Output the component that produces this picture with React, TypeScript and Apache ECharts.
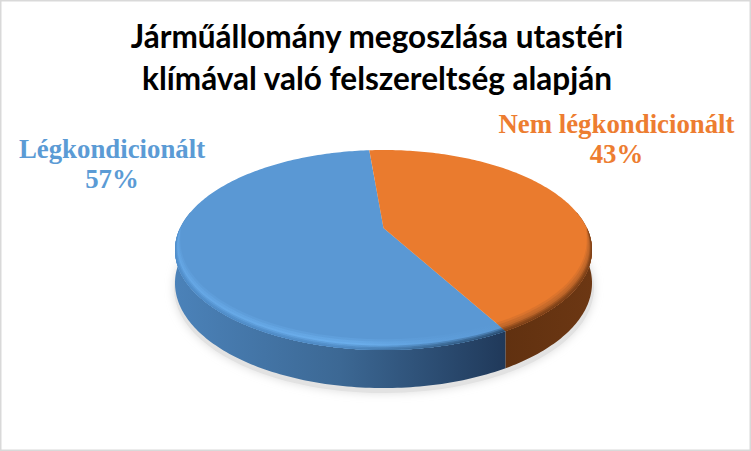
import React, { useEffect, useRef } from "react";
import * as echarts from "echarts";

const titleText = "Járműállomány megoszlása utastéri\nklímával való felszereltség alapján";
const categories = ["Légkondicionált", "Nem légkondicionált"];
const values = [56.7, 43.3];
const topColors = ["#5a98d4", "#ea7b2e"];
const labelColors = ["#5b9bd5", "#ed7d31"];

const START_DEG = 151;
const CX = 383.5, CY = 228, A = 95.16, B = 203.4, C = -0.22;
const BASE_Y = 260, BASE_A = 99.9;
const rad = (d: number) => (d * Math.PI) / 180;

function project(deg: number, s = 1): number[] {
  const u = Math.sin(rad(deg)) * s;
  const v = -Math.cos(rad(deg)) * s;
  const d = 1 + C * v;
  return [CX + (B * u) / d, CY + (A * v) / d];
}
function projectBase(deg: number): number[] {
  const u = Math.sin(rad(deg));
  const v = -Math.cos(rad(deg));
  const d = 1 + C * v;
  return [CX + (B * u) / d, BASE_Y + (BASE_A * v) / d];
}
function arc(from: number, to: number, fn: (d: number) => number[] = (d) => project(d)): number[][] {
  const n = Math.max(2, Math.ceil(Math.abs(to - from)));
  const pts: number[][] = [];
  for (let i = 0; i <= n; i++) pts.push(fn(from + ((to - from) * i) / n));
  return pts;
}
// band inside the rim, thickest at the front, vanishing at the sides
function band(from: number, to: number, inset: number): number[][] {
  const inner = arc(to, from, (d) => project(d, 1 - inset * Math.pow(Math.max(0, -Math.cos(rad(d))), 0.6)));
  return [...arc(from, to), ...inner];
}
function range(i: number, vals: number[]) {
  const total = vals.reduce((a, b) => a + b, 0);
  const before = vals.slice(0, i).reduce((a, b) => a + b, 0);
  const from = START_DEG + (before / total) * 360;
  return [from, from + (vals[i] / total) * 360];
}
function frontClip(from: number, to: number, lo = 80, hi = 280): number[] | null {
  for (const k of [0, 360, -360]) {
    const a = Math.max(from + k, lo);
    const b = Math.min(to + k, hi);
    if (b > a) return [a, b];
  }
  return null;
}

const Lin = echarts.graphic.LinearGradient;
const stopsH = (list: [number, string][]) => list.map(([offset, color]) => ({ offset, color }));
const wallFills = [
  new Lin(175, 0, 505, 0, stopsH([[0, "#4b82b9"], [0.5, "#3c6894"], [1, "#20395a"]]), true),
  new Lin(505, 0, 592, 0, stopsH([[0, "#613110"], [1, "#6c3713"]]), true),
];
const glowFills = [
  new Lin(175, 0, 505, 0, stopsH([[0, "#66a8e6"], [0.55, "#6cb0ee"], [0.8, "#5f9fdc"], [1, "#5a98d4"]]), true),
  "#b9642a",
];
const edgeFills = [
  new Lin(175, 0, 505, 0, stopsH([[0, "#4f8cc8"], [0.5, "#4d88c2"], [0.8, "#37648f"], [1, "#274a6e"]]), true),
  "#7a3f17",
];

export default function App() {
  const ref = useRef<HTMLDivElement>(null);
  useEffect(() => {
    document.body.style.margin = "0";
    const chart = echarts.init(ref.current!, undefined, { renderer: "svg" });
    const seriesData = values.map((v, i) => ({ name: categories[i], value: [v] }));
    chart.setOption({
      animation: false,
      backgroundColor: "#ffffff",
      title: {
        text: titleText,
        left: 372,
        top: 10,
        textAlign: "center",
        textStyle: { fontFamily: "Lato", fontWeight: "bold", fontSize: 31.5, lineHeight: 42, color: "#000000" },
      },
      graphic: [
        { type: "rect", silent: true, shape: { x: 0, y: 0, width: 751, height: 451 }, style: { fill: "none", stroke: "#d9d9d9", lineWidth: 3 } },
      ],
      series: [
        {
          type: "custom",
          coordinateSystem: "none",
          silent: true,
          z: 1,
          data: [[1]],
          renderItem: () => ({
            type: "ellipse",
            shape: { cx: 384, cy: 288, rx: 210, ry: 105 },
            style: { fill: "#e2e2e2", shadowBlur: 10, shadowColor: "#dcdcdc" },
          }),
        },
        {
          type: "custom",
          coordinateSystem: "none",
          silent: true,
          z: 2,
          data: seriesData,
          renderItem: (p: any, api: any) => {
            api.value(0);
            const [f, t] = range(p.dataIndex, values);
            const c = frontClip(f, t);
            if (!c) return { type: "group", children: [] };
            const points = [...arc(c[0], c[1]), ...arc(c[1], c[0], projectBase)];
            return { type: "polygon", shape: { points }, style: { fill: wallFills[p.dataIndex] } };
          },
        },
        {
          type: "custom",
          coordinateSystem: "none",
          silent: true,
          z: 3,
          data: seriesData,
          renderItem: (p: any, api: any) => {
            api.value(0);
            const [f, t] = range(p.dataIndex, values);
            const points = [[CX, CY], ...arc(f, t)];
            return { type: "polygon", shape: { points }, style: { fill: topColors[p.dataIndex] } };
          },
        },
        {
          type: "custom",
          coordinateSystem: "none",
          silent: true,
          z: 4,
          data: seriesData,
          renderItem: (p: any, api: any) => {
            api.value(0);
            const [f, t] = range(p.dataIndex, values);
            const c = frontClip(f, t, 90, 270);
            if (!c) return { type: "group", children: [] };
            const glow = glowFills[p.dataIndex];
            const edge = edgeFills[p.dataIndex];
            return {
              type: "group",
              children: [
                { type: "polygon", shape: { points: band(c[0], c[1], 0.07) }, style: { fill: glow, opacity: 0.3 } },
                { type: "polygon", shape: { points: band(c[0], c[1], 0.055) }, style: { fill: glow, opacity: 0.5 } },
                { type: "polygon", shape: { points: band(c[0], c[1], 0.04) }, style: { fill: glow, opacity: 0.7 } },
                { type: "polygon", shape: { points: band(c[0], c[1], 0.028) }, style: { fill: edge, opacity: 0.4 } },
                { type: "polygon", shape: { points: band(c[0], c[1], 0.018) }, style: { fill: edge, opacity: 0.6 } },
                { type: "polygon", shape: { points: band(c[0], c[1], 0.008) }, style: { fill: edge, opacity: 0.9 } },
              ],
            };
          },
        },
        {
          type: "custom",
          coordinateSystem: "none",
          silent: true,
          z: 5,
          data: seriesData,
          renderItem: (p: any, api: any) => {
            const i = p.dataIndex;
            const anchor = i === 0 ? [112, 164] : [616.5, 139];
            return {
              type: "text",
              x: anchor[0],
              y: anchor[1],
              style: {
                text: `${categories[i]}\n${Math.round(api.value(0))}%`,
                fontFamily: "Liberation Serif",
                fontWeight: "bold",
                fontSize: 26.8,
                lineHeight: 30,
                fill: labelColors[i],
                align: "center",
                verticalAlign: "middle",
              },
            };
          },
        },
      ],
    });
    return () => chart.dispose();
  }, []);
  return <div ref={ref} style={{ width: 751, height: 451, overflow: "hidden" }} />;
}
